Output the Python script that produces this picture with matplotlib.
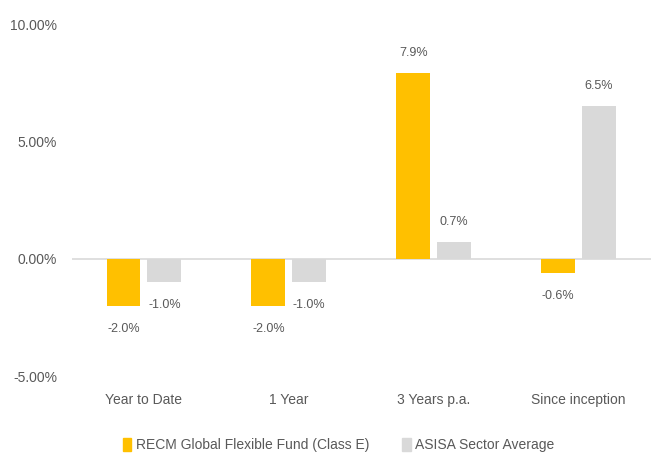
import matplotlib
matplotlib.use("Agg")
import matplotlib.pyplot as plt
import numpy as np
from matplotlib.patches import Patch

categories = ["Year to Date", "1 Year", "3 Years p.a.", "Since inception"]
fund_values = [-2.0, -2.0, 7.9, -0.6]
sector_values = [-1.0, -1.0, 0.7, 6.5]
series_names = ["RECM Global Flexible Fund (Class E)", "ASISA Sector Average"]
yticks = [-5, 0, 5, 10]
ytick_labels = ["-5.00%", "0.00%", "5.00%", "10.00%"]

FONT = ['Liberation Sans Narrow', 'Liberation Sans', 'DejaVu Sans']
plt.rcParams['font.family'] = FONT
TXT = "#595959"
C1 = "#FFC000"
C2 = "#D9D9D9"

fig = plt.figure(figsize=(6.51, 4.54), dpi=100)
ax = fig.add_axes([71.5/651, 78/454, (651-71.5)/651, (376-24)/454])

x = np.arange(len(categories))
w = 0.234
off = 0.141
b1 = ax.bar(x - off, fund_values, w, color=C1, zorder=2)
b2 = ax.bar(x + off, sector_values, w, color=C2, zorder=2)

for bars, vals in ((b1, fund_values), (b2, sector_values)):
    for r, v in zip(bars, vals):
        cx = r.get_x() + r.get_width() / 2
        dy = 14.5 if v >= 0 else -16.5
        ax.annotate(f"{v:.1f}%", (cx, v), xytext=(0, dy), textcoords="offset points",
                    ha="center", va="center", fontsize=9, color=TXT)

ax.axhline(0, color=C2, lw=1.2, zorder=1)
ax.set_xlim(-0.5, len(categories) - 0.5)
ax.set_ylim(-5, 10)
ax.set_yticks(yticks)
ax.set_yticklabels(ytick_labels)
ax.set_xticks(x)
ax.set_xticklabels(categories)
ax.tick_params(axis="both", length=0, colors=TXT, labelsize=10)
ax.tick_params(axis="y", pad=10.5)
ax.tick_params(axis="x", pad=12)
for s in ax.spines.values():
    s.set_visible(False)

handles = [Patch(color=C1), Patch(color=C2)]
fig.legend(handles, series_names, loc="center", bbox_to_anchor=(0.5 + 0.02, 9/454),
           ncol=2, frameon=False, fontsize=10, labelcolor=TXT,
           handlelength=0.6, handleheight=1.1, handletextpad=0.3, columnspacing=2.4)

fig.savefig("out.png", dpi=100)
